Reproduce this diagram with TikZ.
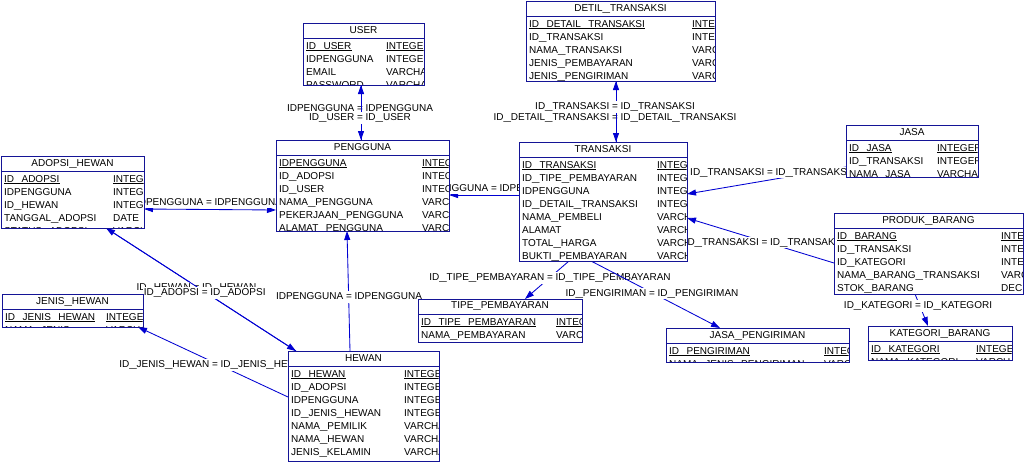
\documentclass[tikz,border=0pt]{standalone}
\usepackage{fontspec}
\usepackage{graphicx}
\setmainfont{Liberation Sans}
\usetikzlibrary{arrows.meta,calc}
\pgfdeclarelayer{back}
\pgfdeclarelayer{bg}
\pgfsetlayers{back,bg,main}
\definecolor{boxblue}{RGB}{20,20,150}
\definecolor{lineblue}{RGB}{0,0,210}
\newcommand{\us}{\scalebox{1.33}[1]{\_}}
\tikzset{
  erbox/.style={draw=boxblue, fill=white, line width=1pt, anchor=north west, inner sep=0pt, outer sep=0pt},
  rowtext/.style={anchor=base west, inner sep=0pt, font=\fontsize{10}{12}\selectfont, text=black},
  titletext/.style={inner sep=0pt, font=\fontsize{10}{12}\selectfont, text=black},
  rel/.style={draw=lineblue, line width=0.85pt},
  arrend/.style={-{Triangle[length=9pt,width=6pt]}},
  arrboth/.style={{Triangle[length=9pt,width=6pt]}-{Triangle[length=9pt,width=6pt]}},
  rellabel/.style={anchor=base, fill=white, inner sep=1pt, text height=7.5pt, text depth=2pt, font=\fontsize{10}{12}\selectfont, text=black}
}
\newcommand{\ertable}[8]{%
  \node[erbox, minimum width=#4pt, minimum height=#5pt] (#1) at (#2,#3) {};
  \draw[draw=boxblue, line width=1pt] ([yshift=-15pt]#1.north west) -- ([yshift=-15pt]#1.north east);
  \node[titletext] (#1-title) at ([yshift=-7.5pt]#1.north) {#6};
  \begin{scope}
    \clip ([xshift=0.5pt,yshift=0.5pt]#1.south west) rectangle ([xshift=-0.5pt,yshift=-0.5pt]#1.north east);
    \foreach \n/\t [count=\i] in {#8} {
      \node[rowtext] (#1-n\i) at ([xshift=3pt,yshift={-(15+13*\i-1.9)*1pt}]#1.north west) {\n};
      \node[rowtext] (#1-t\i) at ([xshift=#7pt,yshift={-(15+13*\i-1.9)*1pt}]#1.north west) {\t};
      \ifnum\i=1
        \draw[line width=0.6pt] ([yshift=-1.6pt]#1-n\i.base west) -- ([yshift=-1.6pt]#1-n\i.base east);
        \draw[line width=0.6pt] ([yshift=-1.6pt]#1-t\i.base west) -- ([yshift=-1.6pt]#1-t\i.base east);
      \fi
    }
  \end{scope}
}
\begin{document}
\begin{tikzpicture}[x=1pt,y=-1pt]
\begin{pgfonlayer}{back}
\fill[white] (0,0) rectangle (1026,464);
\end{pgfonlayer}
\useasboundingbox (0,0) rectangle (1026,464);

\ertable{user}{303}{23}{121}{62}{USER}{83}{ID\us USER/INTEGER, IDPENGGUNA/INTEGER, EMAIL/VARCHAR, PASSWORD/VARCHAR}
\ertable{pengguna}{276}{140}{173}{91}{PENGGUNA}{146}{IDPENGGUNA/INTEGER, ID\us ADOPSI/INTEGER, ID\us USER/INTEGER, NAMA\us PENGGUNA/VARCHAR, PEKERJAAN\us PENGGUNA/VARCHAR, ALAMAT\us PENGGUNA/VARCHAR}
\ertable{detil}{526}{1}{189}{80}{DETIL\us TRANSAKSI}{166}{ID\us DETAIL\us TRANSAKSI/INTEGER, ID\us TRANSAKSI/INTEGER, NAMA\us TRANSAKSI/VARCHAR, JENIS\us PEMBAYARAN/VARCHAR, JENIS\us PENGIRIMAN/VARCHAR}
\ertable{transaksi}{519}{142}{168}{119}{TRANSAKSI}{138}{ID\us TRANSAKSI/INTEGER, ID\us TIPE\us PEMBAYARAN/INTEGER, IDPENGGUNA/INTEGER, ID\us DETAIL\us TRANSAKSI/INTEGER, NAMA\us PEMBELI/VARCHAR, ALAMAT/VARCHAR, TOTAL\us HARGA/VARCHAR, BUKTI\us PEMBAYARAN/VARCHAR}
\ertable{adopsi}{1}{156}{143}{72}{ADOPSI\us HEWAN}{112}{ID\us ADOPSI/INTEGER, IDPENGGUNA/INTEGER, ID\us HEWAN/INTEGER, TANGGAL\us ADOPSI/DATE, STATUS\us ADOPSI/VARCHAR}
\ertable{jenis}{2}{294}{141}{33}{JENIS\us HEWAN}{104}{ID\us JENIS\us HEWAN/INTEGER, NAMA\us JENIS/VARCHAR}
\ertable{hewan}{288}{351}{151}{110}{HEWAN}{116}{ID\us HEWAN/INTEGER, ID\us ADOPSI/INTEGER, IDPENGGUNA/INTEGER, ID\us JENIS\us HEWAN/INTEGER, NAMA\us PEMILIK/VARCHAR, NAMA\us HEWAN/VARCHAR, JENIS\us KELAMIN/VARCHAR, ALAMAT\us HEWAN/VARCHAR}
\ertable{tipe}{418}{299}{164}{43}{TIPE\us PEMBAYARAN}{138}{ID\us TIPE\us PEMBAYARAN/INTEGER, NAMA\us PEMBAYARAN/VARCHAR}
\ertable{jasap}{666}{328}{183}{34}{JASA\us PENGIRIMAN}{158}{ID\us PENGIRIMAN/INTEGER, NAMA\us JENIS\us PENGIRIMAN/VARCHAR}
\ertable{jasa}{846}{125}{132}{52}{JASA}{91}{ID\us JASA/INTEGER, ID\us TRANSAKSI/INTEGER, NAMA\us JASA/VARCHAR}
\ertable{produk}{834}{213}{189}{81}{PRODUK\us BARANG}{167}{ID\us BARANG/INTEGER, ID\us TRANSAKSI/INTEGER, ID\us KATEGORI/INTEGER, NAMA\us BARANG\us TRANSAKSI/VARCHAR, STOK\us BARANG/DECIMAL}
\ertable{kategori}{868}{326}{144}{34}{KATEGORI\us BARANG}{108}{ID\us KATEGORI/INTEGER, NAMA\us KATEGORI/VARCHAR}

\begin{pgfonlayer}{bg}
% USER - PENGGUNA
\draw[rel, arrboth] ([xshift=58pt]user.south west) -- ([xshift=85pt]pengguna.north west);
\node[rellabel] (l1) at (360,111.3) {IDPENGGUNA = IDPENGGUNA};
\draw[rel] ([xshift=58pt]user.south west) -- ([xshift=85pt]pengguna.north west);
\node[rellabel] (l2) at (360,120.9) {ID\us USER = ID\us USER};
% DETIL - TRANSAKSI
\draw[rel, arrboth] ([xshift=90pt]detil.south west) -- ([xshift=97pt]transaksi.north west);
\node[rellabel] (l3) at (615,120.6) {ID\us DETAIL\us TRANSAKSI = ID\us DETAIL\us TRANSAKSI};
\draw[rel] ([xshift=90pt]detil.south west) -- ([xshift=97pt]transaksi.north west);
\node[rellabel] (l4) at (615,109.6) {ID\us TRANSAKSI = ID\us TRANSAKSI};
% TRANSAKSI -> PENGGUNA
\draw[rel, arrend] ([yshift=-53pt]transaksi.north west) -- ([yshift=-55pt]pengguna.north east);
\node[rellabel] (l5) at (494,191.3) {IDPENGGUNA = IDPENGGUNA};
% ADOPSI - PENGGUNA
\draw[rel, arrboth] ([yshift=-53pt]adopsi.north east) -- ([yshift=-70pt]pengguna.north west);
\node[rellabel] (l6) at (209,205.3) {IDPENGGUNA = IDPENGGUNA};
% HEWAN - ADOPSI
\draw[rel, arrboth] ([xshift=105pt]adopsi.south west) -- ([xshift=8pt]hewan.north west);
\node[rellabel] (l7) at (196.5,290.6) {ID\us HEWAN = ID\us HEWAN};
\draw[rel] ([xshift=105pt]adopsi.south west) -- ([xshift=8pt]hewan.north west);
\node[rellabel] (l8) at (204.7,295.6) {ID\us ADOPSI = ID\us ADOPSI};
% HEWAN -> JENIS_HEWAN
\draw[rel, arrend] ([yshift=-46pt]hewan.north west) -- ([xshift=-5pt]jenis.south east);
\node[rellabel] (l9) at (215,367.9) {ID\us JENIS\us HEWAN = ID\us JENIS\us HEWAN};
% HEWAN -> PENGGUNA
\draw[rel, arrend] ([xshift=62pt]hewan.north west) -- ([xshift=71pt]pengguna.south west);
\node[rellabel] (l10) at (349,299.6) {IDPENGGUNA = IDPENGGUNA};
% TRANSAKSI -> TIPE
\draw[rel, arrend] ([xshift=50pt]transaksi.south west) -- ([xshift=107pt]tipe.north west);
\node[rellabel] (l11) at (550,280.6) {ID\us TIPE\us PEMBAYARAN = ID\us TIPE\us PEMBAYARAN};
% TRANSAKSI -> JASA_PENGIRIMAN
\draw[rel, arrend] ([xshift=72pt]transaksi.south west) -- ([xshift=54pt]jasap.north west);
\node[rellabel] (l12) at (652,296.3) {ID\us PENGIRIMAN = ID\us PENGIRIMAN};
% JASA -> TRANSAKSI
\draw[rel, arrend] ([yshift=-42pt]jasa.north west) -- ([yshift=-52pt]transaksi.north east);
\node[rellabel] (l13) at (770,175.3) {ID\us TRANSAKSI = ID\us TRANSAKSI};
% PRODUK -> TRANSAKSI
\draw[rel, arrend] ([yshift=-50pt]produk.north west) -- ([yshift=-76pt]transaksi.north east);
\node[rellabel] (l14) at (764.5,245.3) {ID\us TRANSAKSI = ID\us TRANSAKSI};
% PRODUK -> KATEGORI
\draw[rel, arrend] ([xshift=81pt]produk.south west) -- ([xshift=60pt]kategori.north west);
\node[rellabel] (l15) at (918,308.6) {ID\us KATEGORI = ID\us KATEGORI};
\end{pgfonlayer}
\end{tikzpicture}
\end{document}
